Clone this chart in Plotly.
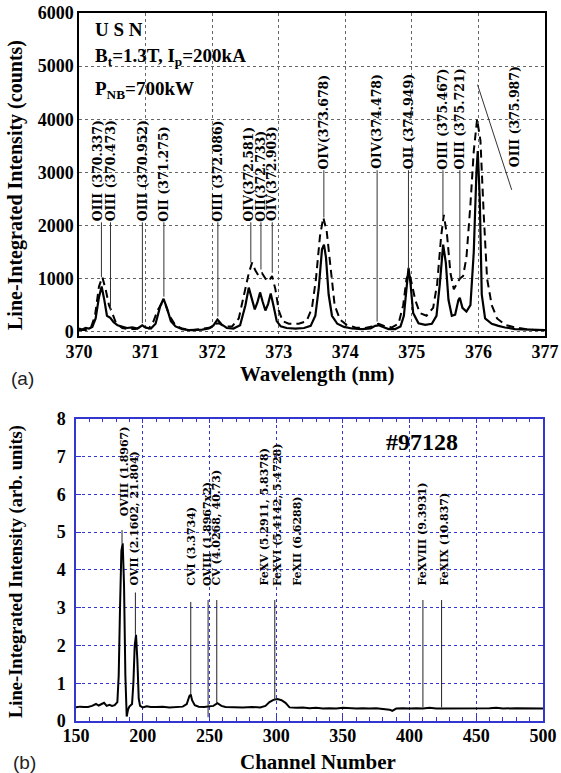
import plotly.graph_objects as go

# ---------------- Panel (a) data ----------------
wl_solid = [
    370.00, 370.05, 370.10, 370.15, 370.20, 370.25, 370.30, 370.34, 370.38, 370.42,
    370.47, 370.52, 370.58, 370.65, 370.72, 370.80, 370.88, 370.95, 371.00, 371.08,
    371.15, 371.22, 371.27, 371.32, 371.38, 371.45, 371.55, 371.65, 371.75, 371.85,
    371.95, 372.02, 372.08, 372.14, 372.22, 372.32, 372.42, 372.50, 372.55, 372.60,
    372.64, 372.68, 372.72, 372.76, 372.80, 372.84, 372.88, 372.92, 372.97, 373.03,
    373.12, 373.25, 373.38, 373.48, 373.55, 373.60, 373.65, 373.68, 373.71, 373.75,
    373.80, 373.88, 373.98, 374.10, 374.25, 374.38, 374.45, 374.50, 374.56, 374.65,
    374.75, 374.83, 374.88, 374.92, 374.95, 374.98, 375.02, 375.10, 375.20, 375.30,
    375.37, 375.42, 375.47, 375.51, 375.55, 375.60, 375.65, 375.70, 375.72, 375.76,
    375.82, 375.88, 375.93, 375.97, 375.99, 376.02, 376.05, 376.10, 376.20, 376.30,
    376.40, 376.55, 376.70, 376.85, 377.00]
int_solid = [
    60, 40, 70, 60, 90, 250, 650, 850, 600, 300,
    260, 180, 120, 90, 70, 80, 60, 120, 80, 60,
    150, 480, 620, 450, 200, 100, 50, 30, 30, 40,
    60, 120, 230, 140, 70, 60, 120, 500, 830, 600,
    420, 550, 740, 560, 400, 520, 720, 500, 200, 100,
    70, 60, 70, 110, 300, 800, 1550, 1640, 1400, 700,
    300, 150, 90, 60, 50, 60, 110, 120, 90, 50,
    50, 100, 300, 900, 1200, 900, 350, 160, 130, 150,
    300, 900, 1640, 1300, 600, 300, 320, 600, 640, 450,
    380, 500, 1500, 3000, 3400, 2500, 700, 250, 150, 110,
    80, 50, 40, 30, 30]

wl_dash = [
    370.00, 370.10, 370.18, 370.24, 370.30, 370.35, 370.40, 370.45, 370.50, 370.56,
    370.65, 370.75, 370.85, 370.95, 371.05, 371.12, 371.18, 371.25, 371.30, 371.36,
    371.45, 371.55, 371.70, 371.85, 371.98, 372.05, 372.10, 372.18, 372.30, 372.40,
    372.48, 372.55, 372.60, 372.65, 372.70, 372.75, 372.80, 372.85, 372.90, 372.95,
    373.00, 373.06, 373.15, 373.30, 373.42, 373.50, 373.56, 373.62, 373.67, 373.72,
    373.78, 373.84, 373.92, 374.02, 374.15, 374.30, 374.40, 374.50, 374.60, 374.70,
    374.80, 374.87, 374.92, 374.96, 375.00, 375.05, 375.12, 375.22, 375.32, 375.38,
    375.44, 375.48, 375.53, 375.58, 375.63, 375.68, 375.72, 375.77, 375.82, 375.88,
    375.93, 375.98, 376.03, 376.08, 376.13, 376.20, 376.28, 376.40, 376.55, 376.70,
    376.85, 377.00]
int_dash = [
    30, 30, 80, 300, 850, 1030, 800, 500, 350, 150,
    70, 50, 50, 100, 60, 200, 400, 550, 500, 300,
    120, 60, 30, 50, 80, 150, 160, 100, 100, 250,
    700, 1100, 1300, 1150, 1050, 1100, 1000, 950, 1050, 800,
    400, 200, 150, 150, 200, 450, 1000, 1800, 2150, 1900,
    1200, 500, 230, 130, 80, 70, 100, 150, 100, 80,
    150, 500, 1000, 1100, 900, 600, 350, 300, 450, 900,
    1800, 2200, 1800, 1100, 800, 900, 1000, 1050, 1400, 2400,
    3400, 4000, 3600, 2200, 1000, 500, 250, 130, 80, 50,
    30, 30]

a_xticks = [370, 371, 372, 373, 374, 375, 376, 377]
a_yticks = [0, 1000, 2000, 3000, 4000, 5000, 6000]

# line identifications in panel (a)
a_lab_text = ["OIII (370.337)", "OIII (370.473)", "OIII (370.952)", "OII (371.275)",
              "OIII (372.086)", "OIV(372.581)", "OII(372.733)", "OIV(372.903)",
              "OIV(373.678)", "OIV(374.478)", "OII (374.949)", "OIII (375.467)",
              "OIII (375.721)"]
a_lab_wl = [370.337, 370.473, 370.952, 371.275, 372.086, 372.581, 372.733, 372.903,
            373.678, 374.478, 374.949, 375.467, 375.721]
a_lab_base = [2060, 2060, 2060, 2060, 2060, 2060, 2060, 2060,
              3040, 3040, 3040, 3040, 3040]
a_lab_peak = [1030, 400, 160, 660, 285, 1300, 1170, 1110, 2150, 190, 1180, 2170, 980]
# the 375.987 line, labelled to the side
a_side_text = "OIII (375.987)"
a_side_lab_wl = 376.54
a_side_lab_base = 3075
a_side_line_wl = [375.987, 376.50]
a_side_line_int = [4650, 2670]

# ---------------- Panel (b) data ----------------
ch_b = [
    150, 153, 156, 159, 162, 165, 167, 169, 171, 173,
    175, 177, 179, 181, 182, 183, 184, 185, 186, 187,
    188, 189, 190, 192, 193, 194, 195, 196, 197, 198,
    200, 203, 206, 210, 215, 220, 225, 230, 233, 235,
    236, 237, 239, 242, 246, 250, 253, 256, 259, 262,
    268, 275, 282, 288, 292, 295, 298, 301, 304, 307,
    310, 315, 320, 325, 330, 335, 340, 345, 350, 355,
    360, 365, 370, 375, 380, 385, 387, 390, 395, 400,
    405, 410, 415, 420, 425, 430, 440, 450, 460, 465,
    470, 480, 490, 500]
val_b = [
    0.36, 0.38, 0.37, 0.37, 0.40, 0.45, 0.41, 0.44, 0.48, 0.40,
    0.43, 0.40, 0.42, 0.50, 1.20, 3.00, 4.50, 4.70, 3.60, 1.20,
    0.12, 0.30, 0.38, 0.45, 1.00, 2.00, 2.28, 1.60, 0.60, 0.40,
    0.36, 0.39, 0.37, 0.37, 0.38, 0.36, 0.37, 0.38, 0.45, 0.66,
    0.70, 0.55, 0.42, 0.38, 0.37, 0.38, 0.40, 0.47, 0.40, 0.37,
    0.36, 0.36, 0.37, 0.36, 0.40, 0.50, 0.56, 0.58, 0.55, 0.48,
    0.36, 0.35, 0.36, 0.34, 0.35, 0.33, 0.34, 0.33, 0.35, 0.34,
    0.33, 0.34, 0.33, 0.34, 0.33, 0.30, 0.27, 0.33, 0.34, 0.33,
    0.34, 0.33, 0.35, 0.33, 0.33, 0.33, 0.33, 0.33, 0.34, 0.35,
    0.33, 0.34, 0.33, 0.33]

b_xticks = [150, 200, 250, 300, 350, 400, 450, 500]
b_yticks = [0, 1, 2, 3, 4, 5, 6, 7, 8]

b_lab_text = ["OVIII (1.8967)", "OVII (2.1602, 21.804)", "CVI (3.3734)",
              "OVIII (1.8967x2)", "CV (4.0268, 40.73)", "FeXV (5.2911, 5.8378)",
              "FeXVI (5.4142, 5.4728)", "FeXII (6.6288)", "FeXVIII (9.3931)",
              "FeXIX (10.837)"]
b_lab_ch = [187, 194, 236.5, 249, 255.5, 291, 300.5, 316, 409.5, 426]
b_lab_base = [5.4, 3.55, 3.55, 3.55, 3.55, 3.55, 3.55, 3.55, 3.55, 3.55]
b_line_ch = [184.5, 194.5, 236, 249, 255.5, 299, 410, 424]
b_line_top = [5.05, 3.40, 3.15, 3.20, 3.20, 3.20, 3.20, 3.20]
b_line_end = [4.70, 2.28, 0.70, 0.10, 0.47, 0.55, 0.36, 0.36]

# ---------------- layout helpers ----------------
W, H = 561, 773
def fx(px):
    return px / W
def fy(py):
    return 1 - py / H

SERIF = "Liberation Serif, Times New Roman, serif"
LABF = "DejaVu Serif, serif"
BLUE = "#3535d0"
# small horizontal nudges (px) of crowded labels in panel (a)
a_lab_nudge = {0: -4, 5: -2}

fig = go.Figure()
fig.add_trace(go.Scatter(x=wl_dash, y=int_dash, mode="lines", xaxis="x", yaxis="y",
                         line=dict(color="black", width=2, dash="8px,5px"), showlegend=False))
fig.add_trace(go.Scatter(x=wl_solid, y=int_solid, mode="lines", xaxis="x", yaxis="y",
                         line=dict(color="black", width=2.2), showlegend=False))
fig.add_trace(go.Scatter(x=ch_b, y=val_b, mode="lines", xaxis="x2", yaxis="y2",
                         line=dict(color="black", width=2), showlegend=False))

shapes = []
ann = []
labfont_a = dict(family=LABF, size=12.5, color="black", weight="bold")
labfont_b = dict(family=LABF, size=11, color="black", weight="bold")
# panel (a) labels
for i, (t, w, b, p) in enumerate(zip(a_lab_text, a_lab_wl, a_lab_base, a_lab_peak)):
    ann.append(dict(x=w, y=b, xref="x", yref="y", text=t, textangle=-90, showarrow=False,
                    xanchor="center", yanchor="bottom", xshift=a_lab_nudge.get(i, 0),
                    borderpad=0, font=labfont_a))
    shapes.append(dict(type="line", xref="x", yref="y", x0=w, x1=w, y0=b, y1=p,
                       line=dict(color="#333", width=1)))
ann.append(dict(x=a_side_lab_wl, y=a_side_lab_base, xref="x", yref="y", text=a_side_text,
                textangle=-90, showarrow=False, xanchor="center", yanchor="bottom", borderpad=0,
                font=labfont_a))
shapes.append(dict(type="line", xref="x", yref="y", x0=a_side_line_wl[0], x1=a_side_line_wl[1],
                   y0=a_side_line_int[0], y1=a_side_line_int[1], line=dict(color="#333", width=1)))

# panel (b) labels
for t, c, b in zip(b_lab_text, b_lab_ch, b_lab_base):
    ann.append(dict(x=c, y=b, xref="x2", yref="y2", text=t, textangle=-90, showarrow=False,
                    xanchor="center", yanchor="bottom", borderpad=0, font=labfont_b))
for c, t0, t1 in zip(b_line_ch, b_line_top, b_line_end):
    shapes.append(dict(type="line", xref="x2", yref="y2", x0=c, x1=c, y0=t0, y1=t1,
                       line=dict(color="#222", width=1)))

big = dict(family=SERIF, size=19, color="black", weight="bold")
ann += [
    dict(x=fx(93), y=fy(30), xref="paper", yref="paper", text="U S N", showarrow=False,
         xanchor="left", yanchor="middle", font=big),
    dict(x=fx(93), y=fy(57), xref="paper", yref="paper",
         text="B<sub>t</sub>=1.3T, I<sub>p</sub>=200kA", showarrow=False,
         xanchor="left", yanchor="middle", font=big),
    dict(x=fx(93), y=fy(90), xref="paper", yref="paper",
         text="P<sub>NB</sub>=700kW", showarrow=False,
         xanchor="left", yanchor="middle", font=big),
    dict(x=fx(422), y=fy(442), xref="paper", yref="paper", text="#97128", showarrow=False,
         xanchor="center", yanchor="middle",
         font=dict(family=SERIF, size=24, color="black", weight="bold")),
    dict(x=fx(16), y=fy(185), xref="paper", yref="paper",
         text="Line-Integrated Intensity (counts)", textangle=-90, showarrow=False,
         xanchor="center", yanchor="middle",
         font=dict(family=SERIF, size=20, color="black", weight="bold")),
    dict(x=fx(317), y=fy(374), xref="paper", yref="paper", text="Wavelength (nm)",
         showarrow=False, xanchor="center", yanchor="middle",
         font=dict(family=SERIF, size=21, color="black", weight="bold")),
    dict(x=fx(16), y=fy(572), xref="paper", yref="paper",
         text="Line-Integrated Intensity (arb. units)", textangle=-90, showarrow=False,
         xanchor="center", yanchor="middle",
         font=dict(family=SERIF, size=18.5, color="black", weight="bold")),
    dict(x=fx(318), y=fy(762), xref="paper", yref="paper", text="Channel Number",
         showarrow=False, xanchor="center", yanchor="middle",
         font=dict(family=SERIF, size=21, color="black", weight="bold")),
    dict(x=fx(22), y=fy(378), xref="paper", yref="paper", text="(a)", showarrow=False,
         xanchor="center", yanchor="middle",
         font=dict(family="Liberation Sans, Arial, sans-serif", size=19, color="#222")),
    dict(x=fx(24), y=fy(762), xref="paper", yref="paper", text="(b)", showarrow=False,
         xanchor="center", yanchor="middle",
         font=dict(family="Liberation Sans, Arial, sans-serif", size=19, color="#222")),
]

tickfont = dict(family=SERIF, size=18, color="black", weight="bold")

fig.update_layout(
    width=W, height=H, autosize=False,
    margin=dict(l=0, r=0, t=0, b=0, pad=0, autoexpand=False),
    paper_bgcolor="white", plot_bgcolor="white",
    font=dict(color="black", family=SERIF),
    showlegend=False,
    shapes=shapes, annotations=ann,
    xaxis=dict(domain=[fx(79), fx(545)], range=[370, 377], tickvals=a_xticks,
               showline=True, mirror=True, linecolor="black", linewidth=1.5,
               showgrid=True, gridcolor="#666", griddash="dot", gridwidth=1,
               zeroline=False, ticks="", tickfont=tickfont, anchor="y",
               automargin=False, ticklabelstandoff=-1),
    yaxis=dict(domain=[fy(335.7), fy(13)], range=[-75, 6000], tickvals=a_yticks,
               tickformat="d",
               showline=True, mirror=True, linecolor="black", linewidth=1.5,
               showgrid=True, gridcolor="#666", griddash="dot", gridwidth=1,
               zeroline=False, ticks="", tickfont=tickfont, anchor="x", automargin=False),
    xaxis2=dict(domain=[fx(76), fx(543)], range=[150, 500], tickvals=b_xticks,
                showline=True, mirror="ticks", linecolor=BLUE, linewidth=1.5,
                showgrid=True, gridcolor=BLUE, griddash="dot", gridwidth=1,
                zeroline=False, ticks="inside", ticklen=5, tickcolor=BLUE,
                minor=dict(dtick=10, ticks="inside", ticklen=4, tickcolor=BLUE, showgrid=False),
                tickfont=tickfont, anchor="y2", automargin=False, ticklabelstandoff=-2),
    yaxis2=dict(domain=[fy(721), fy(418.6)], range=[0, 8], tickvals=b_yticks,
                showline=True, mirror="ticks", linecolor=BLUE, linewidth=1.5,
                showgrid=True, gridcolor=BLUE, griddash="dot", gridwidth=1,
                zeroline=False, ticks="inside", ticklen=5, tickcolor=BLUE,
                tickfont=tickfont, anchor="x2", automargin=False, ticklabelstandoff=5),
)

fig.write_html("out.html", config={"displayModeBar": False},
               post_script="document.body.style.margin='0px';document.body.style.padding='0px';")
